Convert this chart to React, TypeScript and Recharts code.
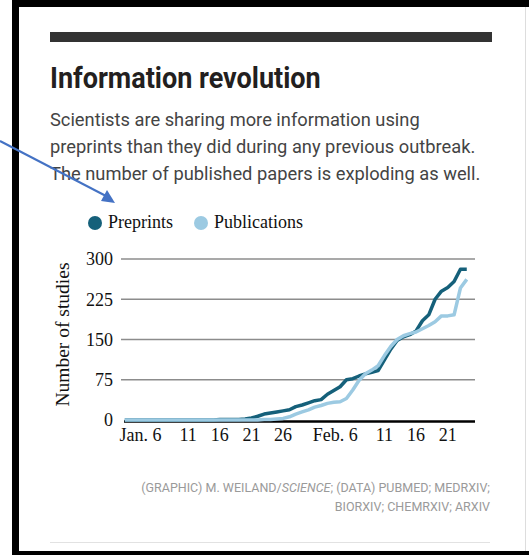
import { LineChart, Line, XAxis, YAxis, CartesianGrid, Legend, Label } from 'recharts'

// Days since Jan. 1, 2020, one point per day
const days = Array.from({ length: 55 }, (_, i) => i)

// Cumulative number of studies per day
const preprints = [
  0, 0, 0, 0, 0, 0, 0, 0, 0, 0,
  0, 0, 0, 0, 0, 1, 1, 1, 1, 2,
  4, 7, 11, 13, 15, 17, 19, 25, 28, 32,
  36, 38, 48, 55, 62, 75, 77, 82, 86, 89,
  92, 112, 132, 148, 155, 159, 166, 185, 196, 225,
  240, 247, 258, 281, 281,
]
const publications = [
  0, 0, 0, 0, 0, 0, 0, 0, 0, 0,
  0, 0, 0, 0, 0, 0, 0, 0, 0, 0,
  0, 0, 1, 1, 2, 3, 6, 11, 15, 19,
  24, 27, 31, 33, 34, 40, 56, 74, 86, 93,
  101, 120, 137, 150, 157, 161, 164, 170, 176, 183,
  194, 194, 196, 246, 262,
]

const xTicks = [5, 10, 15, 20, 25, 36, 41, 46, 51]
const xTickLabels = ['Jan. 6', '11', '16', '21', '26', 'Feb. 6', '11', '16', '21']
const yTicks = [0, 75, 150, 225, 300]

const PREPRINT_COLOR = '#15607a'
const PUBLICATION_COLOR = '#9ccae2'
const SERIF = '"Liberation Serif", "Times New Roman", serif'
const PLOT_BOTTOM = 220

const data = days.map((d, i) => ({ day: d, preprints: preprints[i], publications: publications[i] }))

function DateTick({ x, y, payload }: any) {
  const idx = xTicks.indexOf(payload.value)
  const label = xTickLabels[idx] ?? ''
  const hasMonth = label.includes('.')
  return (
    <text x={hasMonth ? x + 5 : x} y={y} dy={13} textAnchor={hasMonth ? 'end' : 'middle'}
      fill="#111" fontFamily={SERIF} fontSize={18}>
      {label}
    </text>
  )
}

// grey gridlines, with the zero line drawn as the black baseline underneath the series
function GridLine(props: any) {
  const { x1, x2, y1, y2 } = props
  const isBase = Math.abs(y1 - PLOT_BOTTOM) < 1
  return isBase
    ? <line x1={x1 + 3} x2={x2} y1={y1 + 1.5} y2={y2 + 1.5} stroke="#000" strokeWidth={2.5} />
    : <line x1={x1} x2={x2} y1={y1} y2={y2} stroke="#8c8c8c" strokeWidth={1.5} />
}

function LegendContent() {
  const items = [
    { name: 'Preprints', color: PREPRINT_COLOR },
    { name: 'Publications', color: PUBLICATION_COLOR },
  ]
  return (
    <div style={{ display: 'flex', alignItems: 'center', fontFamily: SERIF, fontSize: 18, color: '#111' }}>
      {items.map((it) => (
        <div key={it.name} style={{ display: 'flex', alignItems: 'center', marginRight: 21 }}>
          <span style={{ width: 14, height: 14, borderRadius: 7, background: it.color, marginRight: 6 }} />
          {it.name}
        </div>
      ))}
    </div>
  )
}

export default function App() {
  return (
    <div style={{ position: 'absolute', left: 0, top: 0, width: 529, height: 555, background: '#fff', overflow: 'hidden' }}>
      {/* frame */}
      <div style={{ position: 'absolute', left: 12, top: 0, width: 7, height: 555, background: '#000' }} />
      <div style={{ position: 'absolute', left: 12, top: 0, width: 517, height: 7, background: '#000' }} />
      <div style={{ position: 'absolute', left: 12, top: 551, width: 517, height: 4, background: '#000' }} />
      <div style={{ position: 'absolute', left: 525, top: 7, width: 1, height: 544, background: '#ddd' }} />

      <div style={{ position: 'absolute', left: 50, top: 32, width: 442, height: 10, background: '#333' }} />

      <div style={{
        position: 'absolute', left: 50, top: 60, fontFamily: 'Roboto, sans-serif', fontWeight: 700, fontSize: 30,
        color: '#231f20', whiteSpace: 'nowrap', transform: 'scaleX(0.9)', transformOrigin: 'left top',
      }}>
        Information revolution
      </div>

      <div style={{
        position: 'absolute', left: 50, top: 106, fontFamily: 'Roboto, sans-serif', fontSize: 18.3,
        lineHeight: '27px', color: '#444', whiteSpace: 'nowrap',
      }}>
        Scientists are sharing more information using<br />
        preprints than they did during any previous outbreak.<br />
        The number of published papers is exploding as well.
      </div>

      <div style={{ position: 'absolute', left: 0, top: 200 }}>
        <LineChart width={529} height={260} data={data} margin={{ top: 59, right: 54, bottom: 10, left: 0 }}>
          <CartesianGrid vertical={false} horizontal={<GridLine />} />
          <XAxis dataKey="day" type="number" domain={[-0.6, 55.3]} ticks={xTicks} height={30}
            axisLine={false} tickLine={false} tick={<DateTick />} interval={0} />
          <YAxis type="number" domain={[0, 300]} ticks={yTicks} width={121} axisLine={false} tickLine={false}
            tick={{ fill: '#111', fontFamily: SERIF, fontSize: 18 }}>
            <Label value="Number of studies" angle={-90} position="center" dx={2} dy={-5}
              style={{ fill: '#111', fontFamily: SERIF, fontSize: 19.5 }} />
          </YAxis>
          <Legend verticalAlign="middle" align="center" content={<LegendContent />}
            wrapperStyle={{ top: 12, left: 88, width: 300 }} />
          <Line type="linear" dataKey="preprints" stroke={PREPRINT_COLOR} strokeWidth={3.5} dot={false}
            strokeLinejoin="round" isAnimationActive={false} />
          <Line type="linear" dataKey="publications" stroke={PUBLICATION_COLOR} strokeWidth={3.5} dot={false}
            strokeLinejoin="round" isAnimationActive={false} />
        </LineChart>
      </div>

      <div style={{
        position: 'absolute', right: 39, top: 478, textAlign: 'right', fontFamily: 'Roboto, sans-serif',
        fontSize: 12.5, lineHeight: '19px', color: '#9a9a9a', whiteSpace: 'nowrap',
      }}>
        (GRAPHIC) M. WEILAND/<i>SCIENCE</i>; (DATA) PUBMED; MEDRXIV;<br />
        BIORXIV; CHEMRXIV; ARXIV
      </div>
      <div style={{ position: 'absolute', left: 50, top: 542, width: 440, height: 1, background: '#e2e2e2' }} />

      {/* pointer arrow */}
      <svg width={529} height={555} style={{ position: 'absolute', left: 0, top: 0, pointerEvents: 'none' }}>
        <line x1={0} y1={141} x2={106} y2={196} stroke="#4472c4" strokeWidth={2} />
        <polygon points="115,203 101,201 107,190" fill="#4472c4" />
      </svg>
    </div>
  )
}
